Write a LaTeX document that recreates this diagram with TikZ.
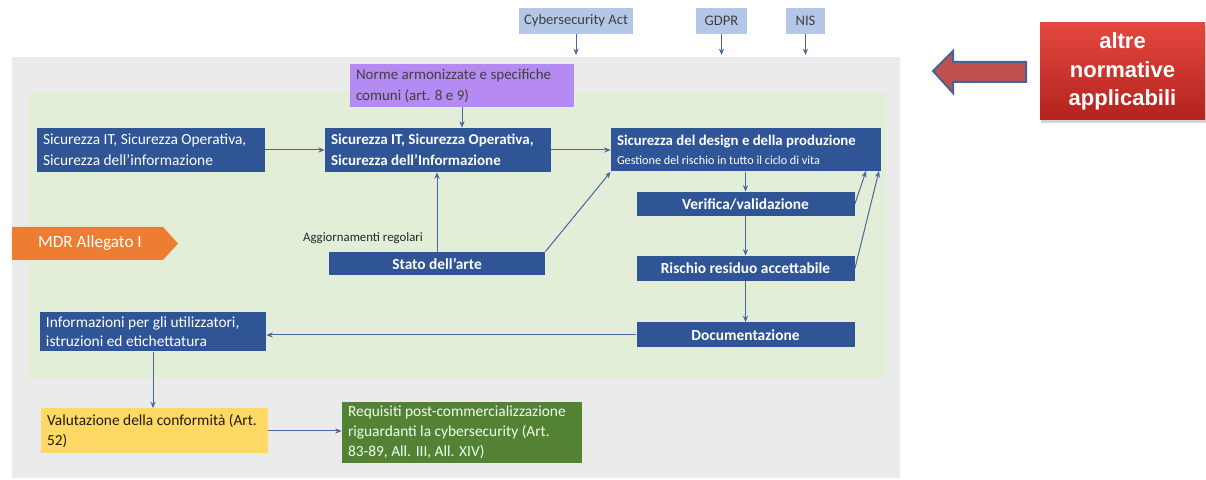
\documentclass[tikz,border=0pt]{standalone}
\usepackage{fontspec}
\setmainfont{Carlito}
\newfontfamily\arialfont{Liberation Sans}
\usetikzlibrary{arrows.meta,shadows}

\definecolor{panelgrey}{HTML}{EBEBEB}
\definecolor{panelgreen}{HTML}{E3EED9}
\definecolor{boxblue}{HTML}{2F5597}
\definecolor{normblue}{HTML}{B4C7E7}
\definecolor{normpurple}{HTML}{B58AF2}
\definecolor{mdrorange}{HTML}{ED7D31}
\definecolor{valyellow}{HTML}{FFD966}
\definecolor{reqgreen}{HTML}{548235}
\definecolor{lineblue}{HTML}{46679F}
\definecolor{redtop}{HTML}{E4483F}
\definecolor{redbot}{HTML}{B3221D}
\definecolor{arrowred}{HTML}{C0504D}
\definecolor{arrowedge}{HTML}{41659B}

\tikzset{
  bluebox/.style={fill=boxblue, text=white, inner ysep=0pt, inner xsep=3pt,
    font=\fontsize{7.7}{10.5}\selectfont},
  normbox/.style={fill=normblue, text=black!75, inner sep=0pt,
    font=\fontsize{7.3}{9}\selectfont},
  conn/.style={draw=lineblue, line width=0.5pt, -{Stealth[length=3.2pt,width=2.6pt]}},
}

\begin{document}
\begin{tikzpicture}[x=0.5pt,y=-0.5pt]
			%%%%% START %%%%%
			\useasboundingbox (0,0) rectangle (1206,480);

			% panel
			\fill[panelgrey] (12,57) rectangle (900,478);
			\fill[panelgreen] (28,92) rectangle (886,378);

			% altre normative
			\node[normbox, minimum width=57pt, minimum height=13pt] (cyber) at (576,21) {Cybersecurity Act};
			\node[normbox, minimum width=25.5pt, minimum height=13pt] (gdpr) at (721.5,21) {GDPR};
			\node[normbox, minimum width=19.5pt, minimum height=13pt] (nis) at (805.5,21) {NIS};
			\coordinate (cyberend) at (576,55);
			\coordinate (gdprend) at (721.5,55);
			\coordinate (nisend) at (805.5,55);
			\draw[conn] (cyber.south) -- (cyberend);
			\draw[conn] (gdpr.south) -- (gdprend);
			\draw[conn] (nis.south) -- (nisend);

			\node[fill=normpurple, text=black!75, align=flush left, inner xsep=3pt, inner ysep=0pt,
			  text width=106pt, minimum height=21.5pt, font=\fontsize{7.5}{10.5}\selectfont]
			  (norme) at (462,85.5) {Norme armonizzate e specifiche\\comuni (art. 8 e 9)};

			% catena principale
			\node[bluebox, align=flush left, text width=108pt, minimum height=22pt] (secleft) at (151,150)
			  {Sicurezza IT, Sicurezza Operativa,\\Sicurezza dell'informazione};
			\node[bluebox, align=flush left, text width=107pt, minimum height=22pt, font=\fontsize{7.5}{10.5}\selectfont\bfseries] (secmid) at (438,150)
			  {Sicurezza IT, Sicurezza Operativa,\\Sicurezza dell'Informazione};
			\node[bluebox, align=flush left, text width=129pt, minimum height=21.5pt] (design) at (746,150)
			  {{\fontsize{7.4}{9}\selectfont\bfseries Sicurezza del design e della produzione}\\[-1pt]{\fontsize{6.1}{7}\selectfont Gestione del rischio in tutto il ciclo di vita}};
			\node[bluebox, minimum width=109pt, minimum height=12pt, font=\fontsize{7.7}{9}\selectfont\bfseries] (verifica) at (745.5,204) {Verifica/validazione};
			\node[bluebox, minimum width=109pt, minimum height=12.5pt, font=\fontsize{7.7}{9}\selectfont\bfseries] (rischio) at (745.5,268.5) {Rischio residuo accettabile};
			\node[bluebox, minimum width=109pt, minimum height=12.5pt, font=\fontsize{7.7}{9}\selectfont\bfseries] (doc) at (745.5,335) {Documentazione};
			\node[bluebox, minimum width=108pt, minimum height=11.5pt, font=\fontsize{7.7}{9}\selectfont\bfseries] (stato) at (437,263.5) {Stato dell'arte};
			\node[font=\fontsize{6.4}{8}\selectfont, text=black!85, inner sep=0pt] (aggiorn) at (363,238) {Aggiornamenti regolari};

			\node[bluebox, align=flush left, text width=107pt, minimum height=19.5pt, font=\fontsize{7.7}{9.5}\selectfont] (info) at (153,332)
			  {Informazioni per gli utilizzatori,\\istruzioni ed etichettatura};
			\node[fill=valyellow, text=black!80!brown, align=flush left, inner xsep=3pt, inner ysep=0pt,
			  text width=107.5pt, minimum height=22.5pt, font=\fontsize{7.7}{10}\selectfont]
			  (valut) at (154.5,431) {Valutazione della conformità (Art.\\52)};
			\node[fill=reqgreen, text=green!8, align=flush left, inner xsep=3pt, inner ysep=0pt,
			  text width=114pt, minimum height=30.5pt, font=\fontsize{7.7}{10}\selectfont]
			  (requisiti) at (462,432.5) {Requisiti post-commercializzazione\\riguardanti la cybersecurity (Art.\\83-89, All. III, All. XIV)};

			% MDR
			\fill[mdrorange] (12,227) -- (163,227) -- (178,243.5) -- (163,260) -- (12,260) -- cycle;
			\node[text=white, font=\fontsize{8.6}{10}\selectfont, inner sep=0pt] (mdr) at (90,243.5) {MDR Allegato I};

			% collegamenti
			\draw[conn] (norme.south) -- (norme.south |- secmid.north);
			\draw[conn] (secleft.east) -- (secmid.west);
			\draw[conn] (secmid.east) -- (design.west);
			\draw[conn] (stato.north) -- (stato.north |- secmid.south);
			\draw[conn] (stato.north east) -- (design.south west);
			\draw[conn] (design.south -| verifica.north) -- (verifica.north);
			\draw[conn] (verifica.south) -- (rischio.north);
			\draw[conn] (rischio.south) -- (doc.north);
			\coordinate (fbone) at (866,171);
			\coordinate (fbtwo) at (879,171);
			\draw[conn] (verifica.east) -- (fbone);
			\draw[conn] (rischio.east) -- (fbtwo);
			\draw[conn] (doc.west) -- (doc.west -| info.east);
			\draw[conn] (info.south) -- (info.south |- valut.north);
			\draw[conn] (valut.east) -- (valut.east -| requisiti.west);

			% freccia e riquadro rosso
			\draw[draw=arrowedge, fill=arrowred, line width=1pt, line join=miter]
			  (933,71) -- (953,51) -- (953,62) -- (1026,62) -- (1026,82) -- (953,82) -- (953,93) -- cycle;
			\node[top color=redtop, bottom color=redbot, drop shadow={shadow xshift=0.5pt, shadow yshift=-1.5pt, opacity=0.35},
			  minimum width=82.5pt, minimum height=48.5pt, inner sep=0pt, align=center, text=white,
			  font=\arialfont\bfseries\fontsize{11}{14.3}\selectfont] (altre) at (1122.5,71.5)
			  {altre\\normative\\applicabili};
			%%%%% END %%%%%
\end{tikzpicture}
\end{document}
